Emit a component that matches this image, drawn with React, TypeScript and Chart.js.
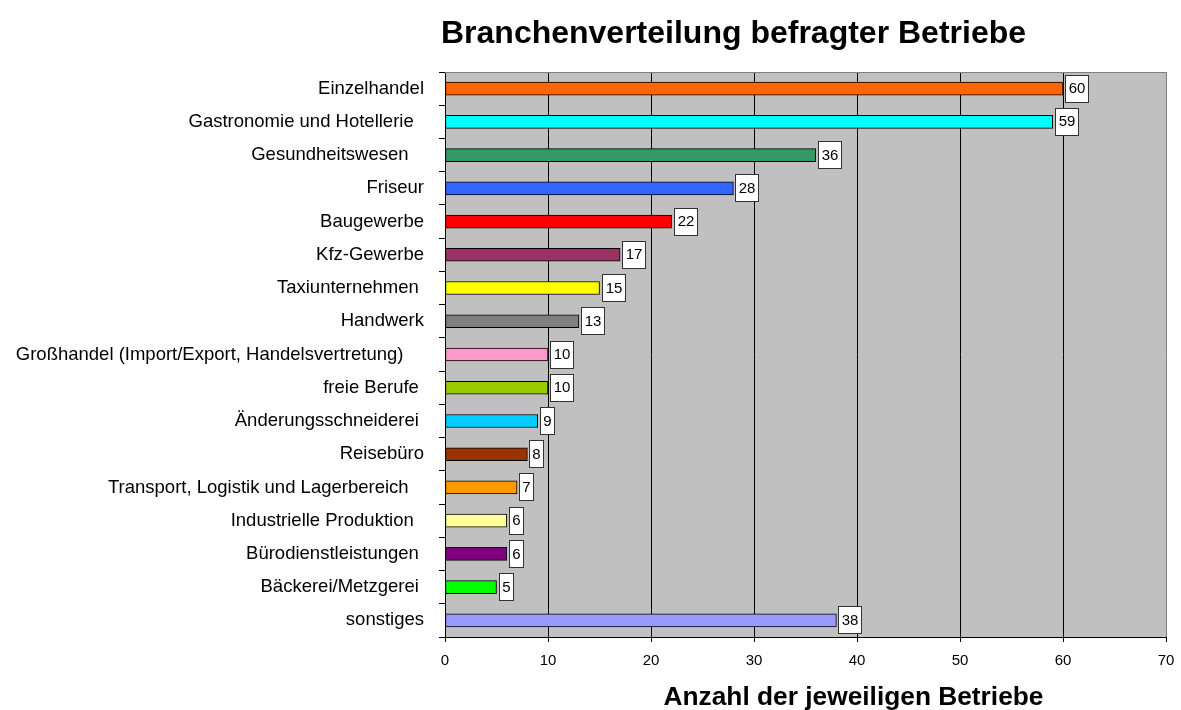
import React, { useEffect, useRef } from "react";
import { Chart, registerables } from "chart.js";

Chart.register(...registerables);

const chartTitle = "Branchenverteilung befragter Betriebe";
const xAxisTitle = "Anzahl der jeweiligen Betriebe";

const categories = [
  "Einzelhandel",
  "Gastronomie und Hotellerie  ",
  "Gesundheitswesen   ",
  "Friseur",
  "Baugewerbe",
  "Kfz-Gewerbe",
  "Taxiunternehmen ",
  "Handwerk",
  "Großhandel (Import/Export, Handelsvertretung)    ",
  "freie Berufe ",
  "Änderungsschneiderei ",
  "Reisebüro",
  "Transport, Logistik und Lagerbereich   ",
  "Industrielle Produktion  ",
  "Bürodienstleistungen ",
  "Bäckerei/Metzgerei ",
  "sonstiges",
];

const values = [60, 59, 36, 28, 22, 17, 15, 13, 10, 10, 9, 8, 7, 6, 6, 5, 38];

const barColors = [
  "#FF6600",
  "#00FFFF",
  "#339966",
  "#3366FF",
  "#FF0000",
  "#993366",
  "#FFFF00",
  "#808080",
  "#FF99CC",
  "#99CC00",
  "#00CCFF",
  "#993300",
  "#FF9900",
  "#FFFF99",
  "#800080",
  "#00FF00",
  "#9999FF",
];

const xMin = 0;
const xMax = 70;
const xStep = 10;

const FONT = "'Liberation Sans', Arial, sans-serif";

const backgroundPlugin = {
  id: "plotBackground",
  beforeDraw(chart: any) {
    const { ctx, chartArea } = chart;
    ctx.save();
    ctx.fillStyle = "#C0C0C0";
    ctx.fillRect(chartArea.left, chartArea.top, chartArea.right - chartArea.left, chartArea.bottom - chartArea.top);
    ctx.restore();
  },
  afterDraw(chart: any) {
    const { ctx, chartArea } = chart;
    ctx.save();
    ctx.strokeStyle = "#808080";
    ctx.lineWidth = 1;
    ctx.beginPath();
    ctx.moveTo(chartArea.left, Math.round(chartArea.top) + 0.5);
    ctx.lineTo(chartArea.right, Math.round(chartArea.top) + 0.5);
    ctx.stroke();
    ctx.restore();
  },
};

const valueLabelPlugin = {
  id: "valueLabels",
  afterDatasetsDraw(chart: any) {
    const { ctx } = chart;
    const meta = chart.getDatasetMeta(0);
    const data = chart.data.datasets[0].data;
    ctx.save();
    ctx.font = `15px ${FONT}`;
    ctx.textAlign = "center";
    ctx.textBaseline = "middle";
    meta.data.forEach((el: any, i: number) => {
      const text = String(data[i]);
      const w = ctx.measureText(text).width;
      const boxW = Math.round(w + 7);
      const boxH = 28;
      const x0 = Math.round(el.x + 2);
      const y0 = Math.round(el.y - boxH / 2);
      ctx.fillStyle = "#FFFFFF";
      ctx.fillRect(x0, y0, boxW, boxH);
      ctx.strokeStyle = "#333333";
      ctx.lineWidth = 1;
      ctx.strokeRect(x0 + 0.5, y0 + 0.5, boxW - 1, boxH - 1);
      ctx.fillStyle = "#000000";
      ctx.fillText(text, x0 + boxW / 2, el.y + 0.5);
    });
    ctx.restore();
  },
};

const titlesPlugin = {
  id: "titles",
  afterDraw(chart: any) {
    const { ctx } = chart;
    ctx.save();
    ctx.fillStyle = "#000000";
    ctx.textAlign = "center";
    ctx.textBaseline = "alphabetic";
    ctx.font = `bold 32px ${FONT}`;
    ctx.fillText(chartTitle, 733.5, 43);
    ctx.font = `bold 26.3px ${FONT}`;
    ctx.fillText(xAxisTitle, 853.5, 705);
    ctx.restore();
  },
};

export default function App() {
  const canvasRef = useRef<HTMLCanvasElement | null>(null);

  useEffect(() => {
    if (!canvasRef.current) return;
    const chart = new Chart(canvasRef.current, {
      type: "bar",
      data: {
        labels: categories,
        datasets: [
          {
            data: values,
            backgroundColor: barColors,
            borderColor: "#000000",
            borderWidth: 1,
            borderSkipped: false,
            barThickness: 13,
          },
        ],
      },
      options: {
        indexAxis: "y",
        animation: false,
        responsive: true,
        maintainAspectRatio: false,
        layout: { padding: { left: 0, right: 15, top: 72, bottom: 0 } },
        plugins: {
          legend: { display: false },
          tooltip: { enabled: false },
          title: { display: false },
        },
        scales: {
          x: {
            type: "linear",
            position: "bottom",
            min: xMin,
            max: xMax,
            ticks: {
              stepSize: xStep,
              color: "#000000",
              font: { family: FONT, size: 15 },
              padding: 10,
            },
            grid: {
              color: (c: any) => (c.tick && c.tick.value === xMax ? "#808080" : "#000000"),
              tickColor: "#000000",
              drawTicks: true,
              tickLength: 5,
              lineWidth: 1,
            },
            border: { color: "#000000", width: 1 },
            afterFit: (scale: any) => {
              scale.height = 73;
              scale.paddingLeft = 0;
              scale.paddingRight = 0;
            },
          },
          y: {
            type: "category",
            position: "left",
            offset: true,
            ticks: {
              color: "#000000",
              font: { family: FONT, size: 18.5 },
              padding: 15,
              autoSkip: false,
            },
            grid: {
              drawOnChartArea: false,
              drawTicks: true,
              tickLength: 6,
              color: "#000000",
              offset: true,
            },
            border: { color: "#000000", width: 1 },
            afterFit: (scale: any) => {
              scale.width = 445;
              scale.paddingTop = 0;
              scale.paddingBottom = 0;
            },
          },
        },
      },
      plugins: [backgroundPlugin, valueLabelPlugin, titlesPlugin],
    });
    return () => chart.destroy();
  }, []);

  return (
    <div style={{ position: "absolute", left: 0, top: 0, width: 1181, height: 710, background: "#FFFFFF" }}>
      <canvas ref={canvasRef} />
    </div>
  );
}
